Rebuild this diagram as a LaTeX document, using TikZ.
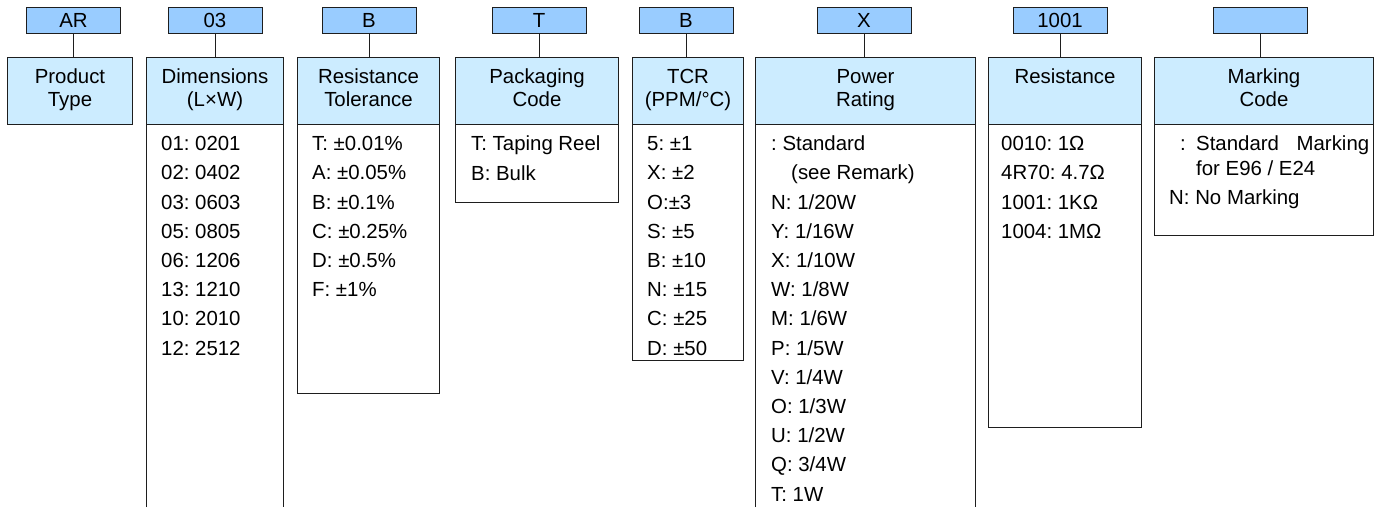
\documentclass[tikz,border=0pt]{standalone}
\usepackage{fontspec}
\setmainfont{Liberation Sans}
\frenchspacing
\definecolor{codeblue}{RGB}{153,204,255}
\definecolor{hdrblue}{RGB}{204,236,255}
\definecolor{edge}{RGB}{30,30,30}
\newcommand\fsz{\fontsize{20.4}{23}\selectfont\frenchspacing}
\tikzset{
  codebox/.style={draw=edge, line width=1pt, fill=codeblue, minimum width=94pt, minimum height=26pt,
    inner sep=0pt, text height=14.6pt, text depth=0pt, font=\fsz},
  hdrbox/.style={draw=edge, line width=1pt, fill=hdrblue, anchor=north west, inner sep=0pt, minimum height=67pt},
  htxt/.style={anchor=base, inner sep=0pt, font=\fsz},
  item/.style={anchor=base west, inner sep=0pt, font=\fsz},
  listbox/.style={draw=edge, line width=1pt},
  conn/.style={draw=edge, line width=1pt}
}
\begin{document}
\begin{tikzpicture}[x=1pt,y=-1pt]
\useasboundingbox (0,0) rectangle (1381,507);
% list boxes
\draw[listbox] (146,507) -- (146,124) -- (283,124) -- (283,507);
\draw[listbox] (297,124) rectangle (439,393);
\draw[listbox] (455,124) rectangle (618,202);
\draw[listbox] (632,124) rectangle (743,360);
\draw[listbox] (755,507) -- (755,124) -- (975,124) -- (975,507);
\draw[listbox] (988,124) rectangle (1141,427);
\draw[listbox] (1154,124) rectangle (1373,235);
% headers
\node[hdrbox, minimum width=125pt] (h1) at (7,57) {};
\node[hdrbox, minimum width=137pt] (h2) at (146,57) {};
\node[hdrbox, minimum width=142pt] (h3) at (297,57) {};
\node[hdrbox, minimum width=163pt] (h4) at (455,57) {};
\node[hdrbox, minimum width=111pt] (h5) at (632,57) {};
\node[hdrbox, minimum width=220pt] (h6) at (755,57) {};
\node[hdrbox, minimum width=153pt] (h7) at (988,57) {};
\node[hdrbox, minimum width=219pt] (h8) at (1154,57) {};
% header texts
\node[htxt] (t1a) at (h1.center |- 0,83) {Product};
\node[htxt] (t1b) at (h1.center |- 0,106) {Type};
\node[htxt] (t2a) at (h2.center |- 0,83) {Dimensions};
\node[htxt] (t2b) at (h2.center |- 0,106) {(L×W)};
\node[htxt] (t3a) at (h3.center |- 0,83) {Resistance};
\node[htxt] (t3b) at (h3.center |- 0,106) {Tolerance};
\node[htxt] (t4a) at (h4.center |- 0,83) {Packaging};
\node[htxt] (t4b) at (h4.center |- 0,106) {Code};
\node[htxt] (t5a) at (h5.center |- 0,83) {TCR};
\node[htxt] (t5b) at (h5.center |- 0,106) {(PPM/°C)};
\node[htxt] (t6a) at (h6.center |- 0,83) {Power};
\node[htxt] (t6b) at (h6.center |- 0,106) {Rating};
\node[htxt] (t7a) at (h7.center |- 0,83) {Resistance};
\node[htxt] (t8a) at (h8.center |- 0,83) {Marking};
\node[htxt] (t8b) at (h8.center |- 0,106) {Code};
% code boxes
\node[codebox] (c1) at (73.5,20) {AR};
\node[codebox] (c2) at (215,20) {03};
\node[codebox] (c3) at (369,20) {B};
\node[codebox] (c4) at (539,20) {T};
\node[codebox] (c5) at (686,20) {B};
\node[codebox] (c6) at (864,20) {X};
\node[codebox] (c7) at (1060,20) {1001};
\node[codebox] (c8) at (1260.5,20) {};
% connectors
\foreach \k in {1,...,8}{
  \draw[conn] (c\k.south) -- (c\k.south |- h\k.north);
}
% lists
\foreach \t [count=\i from 0] in {01: 0201,02: 0402,03: 0603,05: 0805,06: 1206,13: 1210,10: 2010,12: 2512}
  \node[item] (d\i) at (161,150.7+29.2*\i) {\t};
\foreach \t [count=\i from 0] in {T: ±0.01\%,A: ±0.05\%,B: ±0.1\%,C: ±0.25\%,D: ±0.5\%,F: ±1\%}
  \node[item] (r\i) at (312,150.7+29.2*\i) {\t};
\node[item] (p0) at (471,150.7) {T: Taping Reel};
\node[item] (p1) at (471,180) {B: Bulk};
\foreach \t [count=\i from 0] in {5: ±1,X: ±2,O:±3,S: ±5,B: ±10,N: ±15,C: ±25,D: ±50}
  \node[item] (k\i) at (647,150.7+29.2*\i) {\t};
\node[item] (w0) at (771,150.7) {: Standard};
\node[item] (w1) at (791,179.9) {(see Remark)};
\foreach \t [count=\i from 2] in {N: 1/20W,Y: 1/16W,X: 1/10W,W: 1/8W,M: 1/6W,P: 1/5W,V: 1/4W,O: 1/3W,U: 1/2W,Q: 3/4W,T: 1W}
  \node[item] (w\i) at (771,150.7+29.2*\i) {\t};
\foreach \t [count=\i from 0] in {0010: 1Ω,4R70: 4.7Ω,1001: 1KΩ,1004: 1MΩ}
  \node[item] (s\i) at (1001,150.7+29.2*\i) {\t};
\node[item] (m0) at (1180,150.7) {:};
\node[item] (m1) at (1196,150.7) {\makebox[173pt][s]{Standard Marking}};
\node[item] (m2) at (1196,175) {for E96 / E24};
\node[item] (m3) at (1169,204) {N: No Marking};
\end{tikzpicture}
\end{document}
